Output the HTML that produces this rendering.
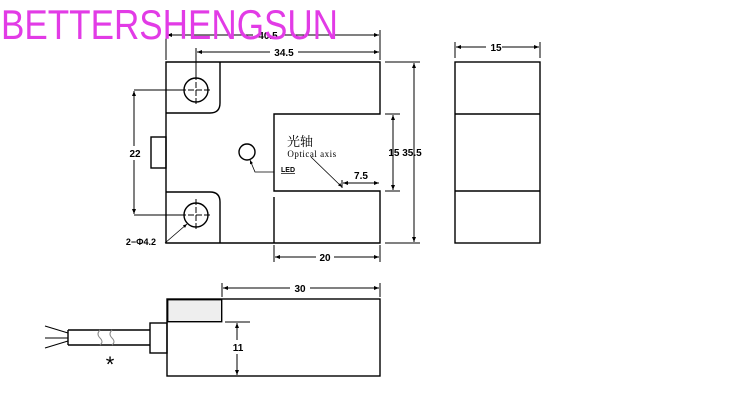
<!DOCTYPE html>
<html><head><style>body{margin:0;background:#fff}svg{display:block}</style></head><body>
<svg width="750" height="404" viewBox="0 0 750 404" xmlns="http://www.w3.org/2000/svg" font-family="Liberation Sans, sans-serif">
<defs><marker id="a" viewBox="0 0 10 10" refX="10" refY="5" markerWidth="7" markerHeight="5" orient="auto-start-reverse"><path d="M0,1L10,5L0,9z" fill="#000"/></marker></defs>
<g fill="none" stroke="#000" stroke-width="1.4">
<path d="M166,62H380V114H274V191H380V243H166Z"/>
<line x1="274" y1="197" x2="274" y2="243"/>
<path d="M166,113H210Q220,113 220,103V62"/>
<path d="M166,192H210Q220,192 220,202V243"/>
<circle cx="196" cy="90" r="12"/><circle cx="196" cy="215" r="12"/>
<rect x="151" y="137" width="15" height="31"/>
<circle cx="247" cy="152" r="8"/>
<rect x="455" y="62" width="85" height="181"/>
<line x1="455" y1="114" x2="540" y2="114"/><line x1="455" y1="191" x2="540" y2="191"/>
<rect x="167" y="299" width="213" height="77"/>
<rect x="150" y="323" width="17" height="30"/>
<path d="M68,330H150M68,345H150M68,330V345"/>
</g>
<rect x="167.7" y="299.7" width="54" height="22" fill="#eee" stroke="#000" stroke-width="1.4"/>
<g stroke="#000" stroke-width="1" fill="none">
<path d="M45,326L68,333M45,338L68,338M45,348L68,341"/>
<path d="M100,330q-4,4 0,8q4,4 0,7M112,330q-4,4 0,8q4,4 0,7" stroke="#888"/>
<path d="M180,90H212M196,74V106M180,215H212M196,199V231" stroke-dasharray="6 2"/>
<path d="M166,60V30M380,60V30M196,78V48M134,90H184M134,215H184M385,62H420M385,114H400M385,191H400M385,243H420M274,245V262M380,245V262M222,297V283M380,297V283M225,322H250M237,376H250M455,58V42M540,58V42M342,188V180"/>
</g>
<g stroke="#000" stroke-width="1" marker-start="url(#a)" marker-end="url(#a)">
<line x1="167" y1="35" x2="379" y2="35"/>
<line x1="197" y1="52" x2="379" y2="52"/>
<line x1="134" y1="91" x2="134" y2="214"/>
<line x1="393" y1="115" x2="393" y2="190"/>
<line x1="414" y1="63" x2="414" y2="242"/>
<line x1="275" y1="257" x2="379" y2="257"/>
<line x1="223" y1="288" x2="379" y2="288"/>
<line x1="237" y1="323" x2="237" y2="375"/>
<line x1="343" y1="183" x2="379" y2="183"/>
<line x1="456" y1="47" x2="539" y2="47"/>
</g>
<g stroke="#000" stroke-width="0.8" fill="none">
<path d="M274,172H255L250,160" marker-end="url(#a)"/>
<path d="M165,243L187,224" marker-end="url(#a)"/>
<path d="M311,157L342,187" marker-end="url(#a)"/>
</g>
<g font-size="10" font-weight="bold" fill="#000" text-anchor="middle">
<rect x="253" y="28" width="30" height="12" fill="#fff"/><text x="268" y="39">40.5</text>
<rect x="270" y="46" width="28" height="12" fill="#fff"/><text x="284" y="56">34.5</text>
<rect x="127" y="146" width="16" height="14" fill="#fff"/><text x="135" y="157">22</text>
<text x="405" y="156">15 35.5</text>
<rect x="316" y="251" width="18" height="12" fill="#fff"/><text x="325" y="261">20</text>
<rect x="290" y="282" width="20" height="12" fill="#fff"/><text x="300" y="292">30</text>
<rect x="230" y="340" width="16" height="14" fill="#fff"/><text x="238" y="351">11</text>
<text x="361" y="179">7.5</text>
<rect x="486" y="41" width="16" height="12" fill="#fff"/><text x="496" y="51">15</text>
<text x="141" y="245" font-size="9">2−Φ4.2</text>
<text x="288" y="172" font-size="7" text-decoration="underline">LED</text>
</g>
<text x="300" y="146" font-size="13" font-family="Liberation Serif, Noto Serif CJK SC, serif" text-anchor="middle">光轴</text>
<text x="312" y="157" font-size="9" font-family="Liberation Serif, serif" text-anchor="middle" letter-spacing="0.5">Optical axis</text>
<text x="110" y="372" font-size="22" text-anchor="middle">*</text>
<text x="1" y="39" font-size="42" fill="#e23be6" textLength="337" lengthAdjust="spacingAndGlyphs">BETTERSHENGSUN</text>
</svg>
</body></html>
